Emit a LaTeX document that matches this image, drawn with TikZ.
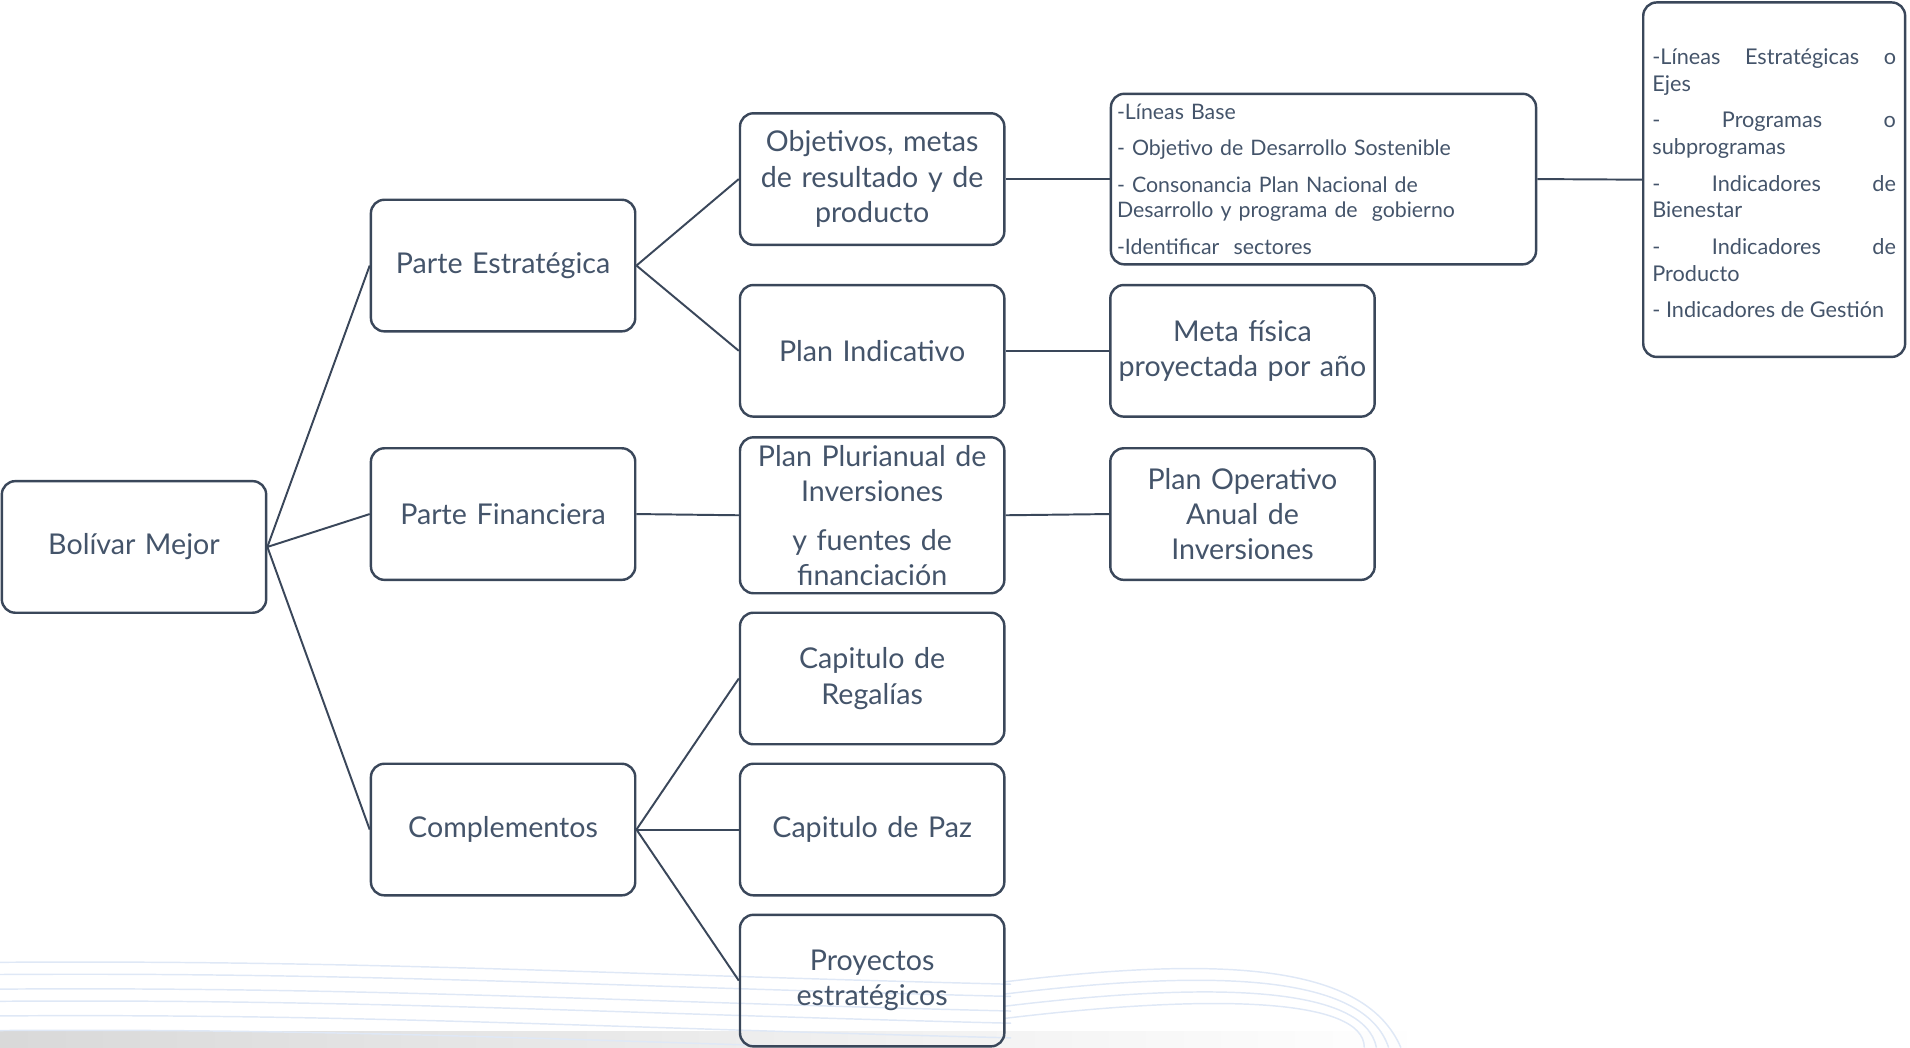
\documentclass[tikz,border=0pt]{standalone}
\usepackage{fontspec}
\setmainfont{Lato}
\usetikzlibrary{positioning}
\definecolor{tinta}{HTML}{44546A}
\definecolor{borde}{HTML}{3A475A}
\definecolor{onda}{HTML}{DFE8F6}
\tikzset{bloque/.style={shape=rectangle, rounded corners=11pt, draw=borde, line width=2pt,
    minimum width=217pt, minimum height=108pt, inner sep=3pt, text width=210pt, align=center,
    text=tinta, font=\fontsize{23.5}{29}\selectfont},
  lista/.style={shape=rectangle, rounded corners=11pt, draw=borde, line width=2pt, text=tinta,
    font=\fontsize{17.5}{21}\selectfont\setlength{\parskip}{9pt}},
  enlace/.style={draw=borde, line width=1.6pt}}

\begin{document}
\begin{tikzpicture}[x=1pt, y=-1pt]
    \useasboundingbox (0,0) rectangle (1568,860);
    % fondo
    \shade[left color=black!15, right color=white] (0,847) rectangle (1170,860);
    \foreach \h in {790,800,812,822,834,846}
      \draw[onda, line width=1.2pt] (0,\h) .. controls (300,\h-2) and (500,\h+10) .. (830,\h+18);
    \foreach \h in {0,10,20,30}
      \draw[onda, line width=1.2pt] (825,806+\h) .. controls (1000,785+\h) and (1120,790+\h) .. (1150-\h,860);

    % nivel 1
    \node[bloque] (bolivar) at (110,449) {Bolívar Mejor};
    % nivel 2
    \node[bloque] (estrategica) at (413,218) {Parte Estratégica};
    \node[bloque] (financiera) at (413,422) {Parte Financiera};
    \node[bloque] (complementos) at (413,681) {Complementos};
    % nivel 3
    \node[bloque] (objetivos) at (716,147) {Objetivos, metas\\de resultado y de\\producto};
    \node[bloque] (indicativo) at (716,288) {Plan Indicativo};
    \node[bloque, minimum height=128pt] (plurianual) at (716,423)
      {Plan Plurianual de\\Inversiones\\[11pt]y fuentes de\\financiación};
    \node[bloque] (regalias) at (716,557) {Capitulo de\\Regalías};
    \node[bloque] (paz) at (716,681) {Capitulo de Paz};
    \node[bloque] (proyectos) at (716,805) {Proyectos\\estratégicos};
    % nivel 4
    \node[lista, minimum width=349pt, minimum height=140pt, text width=339pt, inner xsep=5pt,
      align=left] (lineas) at (1086.5,147)
      {-Líneas Base\par
       - Objetivo de Desarrollo Sostenible\par
       - Consonancia Plan Nacional de\\Desarrollo y programa de\ \ gobierno\par
       -Identificar\ \ sectores};
    \node[bloque] (meta) at (1020,288) {Meta física\\proyectada por año};
    \node[bloque] (operativo) at (1020,422) {Plan Operativo\\Anual de\\Inversiones};
    % nivel 5
    \node[lista, minimum width=215pt, minimum height=291pt, text width=200pt, inner xsep=7.5pt,
      align=justify, font=\fontsize{17.8}{22}\selectfont\setlength{\parskip}{8pt}] (ejes) at (1456.5,147.5)
      {\rule{0pt}{19pt}-Líneas Estratégicas o\linebreak Ejes\par
       - Programas o\linebreak subprogramas\par
       - Indicadores de\linebreak Bienestar\par
       - Indicadores de\linebreak Producto\par
       - Indicadores de Gestión\par};

    \draw[enlace]
    (bolivar.east) edge (estrategica.west)
    (bolivar.east) edge (financiera.west)
    (bolivar.east) edge (complementos.west);

    \draw[enlace]
    (estrategica.east) edge (objetivos.west)
    (estrategica.east) edge (indicativo.west)
    (financiera.east) edge (plurianual.west)
    (complementos.east) edge (regalias.west)
    (complementos.east) edge (paz.west)
    (complementos.east) edge (proyectos.west);

    \draw[enlace]
    (objetivos.east) edge (lineas.west)
    (indicativo.east) edge (meta.west)
    (plurianual.east) edge (operativo.west)
    (lineas.east) edge (ejes.west);
\end{tikzpicture}
\end{document}
